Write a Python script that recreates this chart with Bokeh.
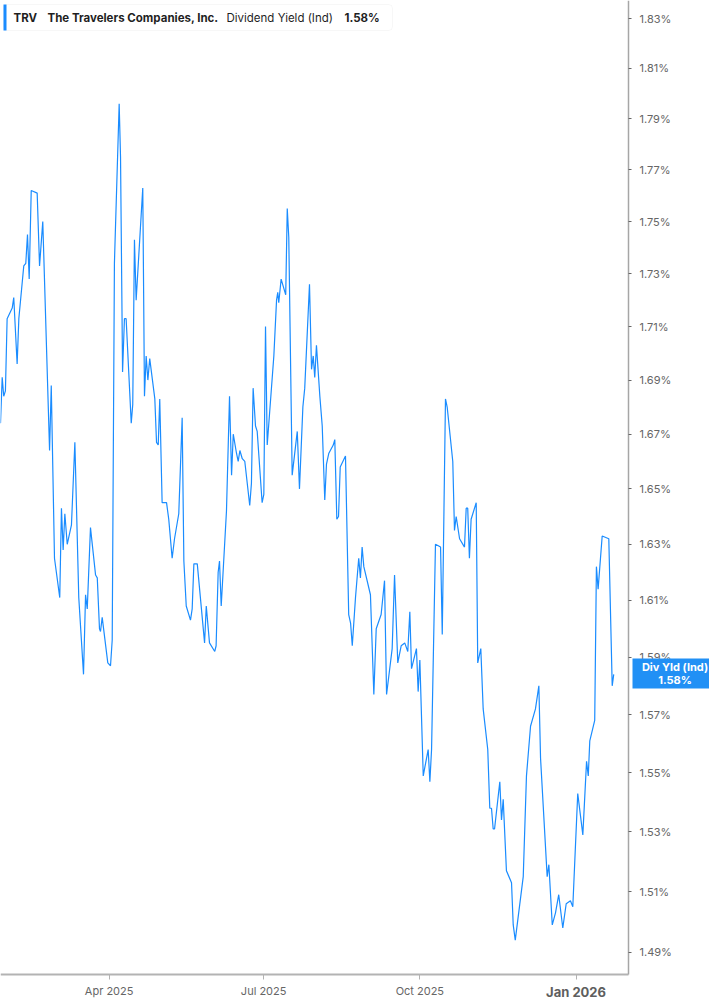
import numpy as np
import pandas as pd
from bokeh.plotting import figure
from bokeh.models import (Range1d, FixedTicker, PrintfTickFormatter, CustomJSTickFormatter,
                          Label, BoxAnnotation, LogAxis, DatetimeAxis)
from bokeh.embed import file_html
from bokeh.resources import INLINE

# ---------------- data ----------------
START = pd.Timestamp("2025-01-27")   # day 0

q1_days = [0, 1.0, 1.9, 2.9, 3.9, 6.9, 7.8, 9.8, 10.8, 13.7, 14.9, 15.9, 16.9, 18.1, 21.6,
           23.0, 24.9, 28.9, 29.9, 31.8, 34.9, 35.9, 36.9, 37.9, 39.3, 41.8, 43.8, 46.1, 48.9,
           50.1, 51.1, 53.0, 56.0, 57.0, 58.3, 58.9, 59.9, 63.2, 64.8, 65.8, 67.1, 69.9, 70.7,
           71.9, 73.0, 74.0, 77.0, 77.9, 78.9, 79.9, 83.8, 84.8, 85.8, 86.8, 87.9]
q1_yield = [1.674, 1.691, 1.684, 1.686, 1.713, 1.717, 1.721, 1.696, 1.713, 1.733, 1.734, 1.745,
            1.728, 1.762, 1.761, 1.733, 1.750, 1.664, 1.688, 1.625, 1.611, 1.643, 1.628, 1.641,
            1.630, 1.637, 1.667, 1.611, 1.584, 1.612, 1.607, 1.636, 1.619, 1.618, 1.600, 1.599,
            1.604, 1.588, 1.587, 1.596, 1.734, 1.796, 1.775, 1.693, 1.713, 1.713, 1.674, 1.681,
            1.743, 1.720, 1.763, 1.684, 1.699, 1.690, 1.698]

q2_days = [90.9, 91.9, 92.9, 93.8, 95.2, 97.8, 99.1, 101.1, 102.5, 105.0, 107.0, 108.0, 109.4,
           111.9, 112.9, 113.9, 115.9, 120.2, 121.2, 123.1, 126.2, 127.0, 128.2, 129.0, 130.0,
           133.1, 134.9, 136.1, 137.1, 139.0, 140.0, 141.0, 142.4, 143.9, 146.8, 147.8, 148.8,
           150.2, 151.2, 154.1, 155.1, 156.1, 157.1, 161.0, 162.6, 163.3, 163.9, 165.3, 168.0,
           168.9, 169.8, 171.8, 174.8, 176.1, 178.1, 179.2, 182.0, 183.2, 184.2, 185.1, 186.1]
q2_yield = [1.683, 1.667, 1.666, 1.683, 1.645, 1.645, 1.639, 1.625, 1.632, 1.641, 1.676, 1.624,
            1.608, 1.603, 1.607, 1.623, 1.623, 1.595, 1.608, 1.595, 1.592, 1.594, 1.620, 1.624,
            1.608, 1.642, 1.684, 1.655, 1.670, 1.663, 1.660, 1.664, 1.661, 1.660, 1.644, 1.652,
            1.687, 1.673, 1.671, 1.645, 1.648, 1.710, 1.666, 1.699, 1.720, 1.723, 1.719, 1.728,
            1.722, 1.755, 1.744, 1.655, 1.671, 1.650, 1.680, 1.687, 1.726, 1.694, 1.699, 1.691,
            1.703]

q3_days = [188.1, 189.5, 191.0, 192.0, 193.4, 196.0, 196.9, 198.1, 199.1, 200.1, 203.2, 205.1,
           206.2, 207.2, 209.1, 211.0, 212.0, 213.0, 214.0, 217.9, 219.9, 221.3, 224.2, 226.2,
           227.4, 230.7, 232.1, 234.0, 236.0, 238.1, 239.9, 241.1, 242.1, 245.0, 246.0, 247.0,
           249.0, 251.9, 252.9, 253.9, 256.2, 259.2, 260.2, 262.1, 263.1, 266.4, 267.4, 268.4,
           270.4, 273.3, 274.3, 275.2, 276.2, 277.2, 280.2, 281.1, 282.9]
q3_yield = [1.684, 1.673, 1.646, 1.659, 1.663, 1.666, 1.668, 1.639, 1.640, 1.658, 1.662, 1.605,
            1.602, 1.594, 1.611, 1.625, 1.618, 1.629, 1.622, 1.612, 1.577, 1.600, 1.605, 1.617,
            1.577, 1.593, 1.619, 1.588, 1.594, 1.595, 1.592, 1.606, 1.586, 1.593, 1.578, 1.589,
            1.549, 1.558, 1.547, 1.558, 1.630, 1.629, 1.598, 1.683, 1.680, 1.660, 1.635, 1.640,
            1.632, 1.629, 1.643, 1.643, 1.625, 1.639, 1.645, 1.588, 1.593]

q4_days = [284.3, 287.0, 288.2, 289.2, 290.2, 291.0, 294.1, 295.1, 296.1, 298.0, 301.0, 302.0,
           303.2, 307.9, 309.8, 312.2, 315.1, 317.1, 318.1, 322.0, 323.0, 325.0, 326.9, 328.8,
           331.2, 333.2, 335.7, 337.1, 340.0, 343.0, 345.2, 346.2, 347.1, 350.0, 351.0, 352.0,
           354.4, 358.3, 360.3, 361.2]
q4_yield = [1.572, 1.558, 1.538, 1.538, 1.531, 1.531, 1.547, 1.534, 1.541, 1.517, 1.513, 1.499,
            1.494, 1.515, 1.549, 1.566, 1.572, 1.580, 1.555, 1.515, 1.519, 1.499, 1.503, 1.509,
            1.498, 1.506, 1.507, 1.505, 1.543, 1.529, 1.554, 1.549, 1.561, 1.568, 1.622, 1.614,
            1.633, 1.632, 1.580, 1.584]

tick_dates = ["2025-04-01", "2025-07-01", "2025-10-01", "2026-01-01"]
tick_labels = ["Apr 2025", "Jul 2025", "Oct 2025", "Jan 2026"]
y_ticks = [1.49, 1.51, 1.53, 1.55, 1.57, 1.59, 1.61, 1.63, 1.65, 1.67, 1.69, 1.71,
           1.73, 1.75, 1.77, 1.79, 1.81, 1.83]

ticker_sym = "TRV"
company = "The Travelers Companies, Inc."
metric = "Dividend Yield (Ind)"
last_value = "1.58%"
tag_name = "Div Yld (Ind)"

# ---------------- layout ----------------
W, H = 709, 1005
AXIS_X_PX = 628            # right value axis position
AXIS_Y_PX = 974            # time axis position
PX_PER_DAY = 628 / 369.9
PX_PER_LN = 4543.0
Y_TOP = 1.83727            # value at the top edge
LINE_BLUE = "#1a8cff"
TAG_BLUE = "#2190f5"

days = q1_days + q2_days + q3_days + q4_days
yields = q1_yield + q2_yield + q3_yield + q4_yield
dates = START + pd.to_timedelta(np.array(days), unit="D")


def ms(ts):
    return pd.Timestamp(ts).value / 1e6


x0 = ms(START)
DAY_MS = 86400000.0


def px_x(xp):
    return x0 + xp / PX_PER_DAY * DAY_MS


def px_y(yp):
    return float(Y_TOP * np.exp(-yp / PX_PER_LN))


p = figure(width=W, height=H, x_axis_type="datetime", y_axis_type="log",
           x_axis_location=None, y_axis_location=None,
           x_range=Range1d(px_x(0), px_x(W)), y_range=Range1d(px_y(H), px_y(0)),
           output_backend="svg", toolbar_location=None,
           min_border_left=0, min_border_top=0, min_border_right=0, min_border_bottom=0)
p.xgrid.visible = False
p.ygrid.visible = False
p.outline_line_color = None
p.background_fill_color = "white"
p.border_fill_color = "white"

# ---- time axis ----
tick_ms = [ms(d) for d in tick_dates]
plain_labels = ["" if lab == "Jan 2026" else lab for lab in tick_labels]
xaxis = DatetimeAxis(fixed_location=px_y(AXIS_Y_PX), bounds=(px_x(0), px_x(AXIS_X_PX)))
xaxis.ticker = FixedTicker(ticks=tick_ms, minor_ticks=[])
xaxis.formatter = CustomJSTickFormatter(
    args=dict(tvals=tick_ms, tlabs=plain_labels),
    code="const i = tvals.indexOf(tick); return i < 0 ? '' : tlabs[i];")
xaxis.axis_line_color = "#b3b3b3"
xaxis.axis_line_width = 2
xaxis.major_tick_line_color = "#b3b3b3"
xaxis.major_tick_line_width = 1
xaxis.major_tick_out = 5
xaxis.major_tick_in = 0
xaxis.major_label_standoff = 4
xaxis.major_label_text_color = "#666666"
xaxis.major_label_text_font = "Inter"
xaxis.major_label_text_font_size = "11px"
p.add_layout(xaxis, "below")

# ---- value axis ----
yaxis = LogAxis(fixed_location=px_x(AXIS_X_PX), bounds=(px_y(AXIS_Y_PX), px_y(0)))
yaxis.ticker = FixedTicker(ticks=y_ticks, minor_ticks=[])
yaxis.formatter = PrintfTickFormatter(format="%.2f%%")
yaxis.axis_line_color = "#a6a6a6"
yaxis.axis_line_width = 1.5
yaxis.major_tick_line_color = "#666666"
yaxis.major_tick_out = 3
yaxis.major_tick_in = 0
yaxis.major_label_standoff = 8
yaxis.major_label_text_color = "#666666"
yaxis.major_label_text_font = "Inter"
yaxis.major_label_text_font_size = "11px"
p.add_layout(yaxis, "right")

p.line(dates, yields, line_color=LINE_BLUE, line_width=1.2)

# ---- header box ----
p.add_layout(BoxAnnotation(left=px_x(3), right=px_x(392), top=px_y(4), bottom=px_y(30),
                           fill_color="white", fill_alpha=1.0, line_color="#e3e3e3",
                           line_width=1, border_radius=4))
p.add_layout(BoxAnnotation(left=px_x(3), right=px_x(6), top=px_y(4), bottom=px_y(30),
                           fill_color=LINE_BLUE, fill_alpha=1.0, line_color=None))
for xp, txt, style in [(13, ticker_sym, "bold"), (47, company, "bold"),
                       (226, metric, "normal"), (344, last_value, "bold")]:
    p.add_layout(Label(x=px_x(xp), y=px_y(17.5), text=txt, text_font="Inter",
                       text_font_size="11.5px", text_font_style=style,
                       text_color="#1f1f1f", text_baseline="middle", text_align="left"))

# ---- bold Jan 2026 axis label ----
p.add_layout(Label(x=tick_ms[3], y=px_y(991), text=tick_labels[3], text_font="Inter",
                   text_font_size="13px", text_font_style="bold", text_color="#5e5e5e",
                   text_align="center", text_baseline="middle"))

# ---- last-value tag on the value axis ----
p.add_layout(BoxAnnotation(left=px_x(632), right=px_x(717), top=px_y(658), bottom=px_y(688),
                           fill_color=TAG_BLUE, fill_alpha=1.0, line_color=None))
for yp, txt in [(666.5, tag_name), (679.5, last_value)]:
    p.add_layout(Label(x=px_x(674.5), y=px_y(yp), text=txt, text_font="Inter",
                       text_font_size="11px", text_font_style="bold", text_color="white",
                       text_align="center", text_baseline="middle"))

open("out.html", "w").write(file_html(p, INLINE))
